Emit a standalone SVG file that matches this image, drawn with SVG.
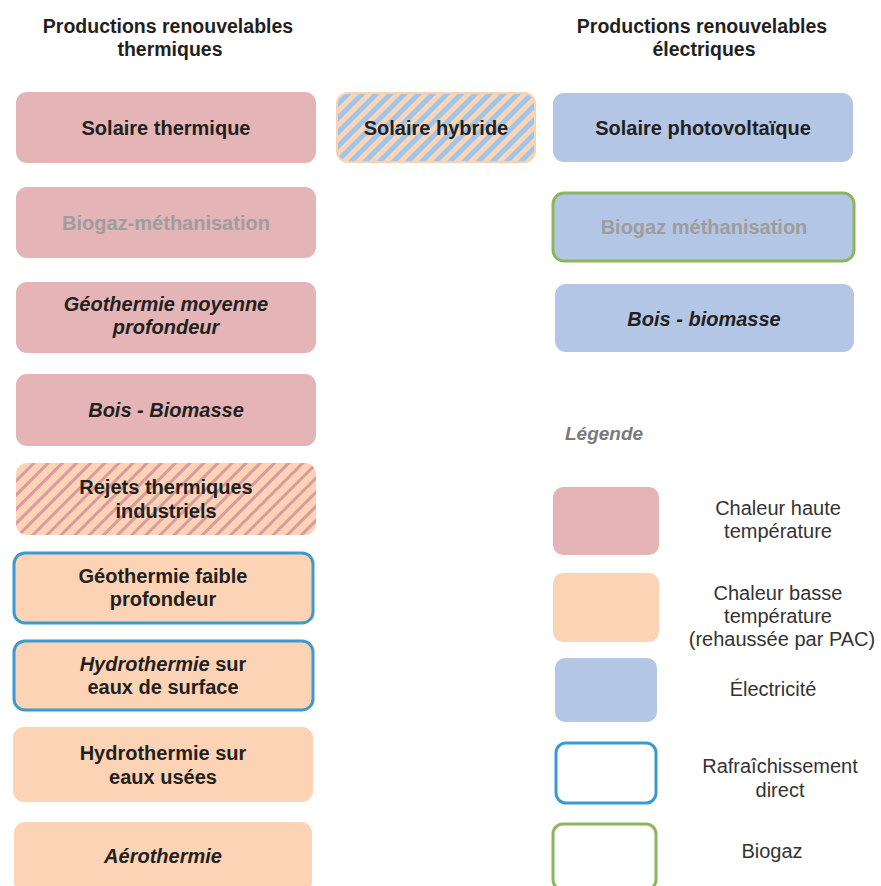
<svg xmlns="http://www.w3.org/2000/svg" width="881" height="886" viewBox="0 0 881 886">
<style>
text{font-family:"Liberation Sans",Arial,sans-serif;fill:#231f20;text-anchor:middle}
.h{font-size:19.5px;font-weight:bold}
.b{font-size:20px;font-weight:bold}
.i{font-style:italic}
.g{fill:#9d9d9d}
.n{font-size:20px;fill:#333}
.leg{font-size:19px;font-weight:bold;font-style:italic;fill:#7a7a7a;text-anchor:start}
.pk{fill:#e4b4b6}
.or{fill:#fcd3b5}
.bl{fill:#b4c6e6}
.cy{stroke:#3b9ad2;stroke-width:3}
.gr{stroke:#8db45f;stroke-width:3}
</style>
<defs>
<pattern id="hyb" patternUnits="userSpaceOnUse" width="10" height="10" patternTransform="rotate(45)">
<rect width="10" height="10" fill="#fcd5b6"/>
<rect width="5" height="10" fill="#9fc6ea"/>
</pattern>
<pattern id="rej" patternUnits="userSpaceOnUse" width="10" height="10" patternTransform="rotate(45)">
<rect width="10" height="10" fill="#fcd3b5"/>
<rect width="3" height="10" fill="#d99aa0"/>
</pattern>
</defs>
<rect width="881" height="886" fill="#ffffff"/>

<g id="header-thermique">
<text class="h" x="168" y="33">Productions renouvelables</text>
<text class="h" x="170" y="56">thermiques</text>
</g>
<g id="header-electrique">
<text class="h" x="702" y="33">Productions renouvelables</text>
<text class="h" x="704" y="56">électriques</text>
</g>

<g id="solaire-thermique">
<rect class="pk" x="16" y="92" width="300" height="71" rx="11"/>
<text class="b" x="166" y="135">Solaire thermique</text>
</g>
<g id="solaire-hybride">
<rect x="337" y="93" width="198" height="69" rx="11" fill="url(#hyb)" stroke="#f9d2b2" stroke-width="2"/>
<text class="b" x="436" y="135">Solaire hybride</text>
</g>
<g id="solaire-pv">
<rect class="bl" x="553" y="93" width="300" height="69" rx="11"/>
<text class="b" x="703" y="135">Solaire photovoltaïque</text>
</g>

<g id="biogaz-thermique">
<rect class="pk" x="16" y="187" width="300" height="71" rx="11"/>
<text class="b g" x="166" y="230">Biogaz-méthanisation</text>
</g>
<g id="biogaz-electrique">
<rect class="bl gr" x="553" y="193" width="301" height="68" rx="11"/>
<text class="b g" x="704" y="234">Biogaz méthanisation</text>
</g>

<g id="geothermie-moyenne">
<rect class="pk" x="16" y="282" width="300" height="71" rx="11"/>
<text class="b i" x="166" y="311">Géothermie moyenne</text>
<text class="b i" x="166" y="334">profondeur</text>
</g>
<g id="bois-electrique">
<rect class="bl" x="555" y="284" width="299" height="68" rx="11"/>
<text class="b i" x="704" y="326">Bois - biomasse</text>
</g>

<g id="bois-thermique">
<rect class="pk" x="16" y="374" width="300" height="72" rx="11"/>
<text class="b i" x="166" y="417">Bois - Biomasse</text>
</g>

<g id="rejets">
<rect x="16" y="463" width="300" height="72" rx="11" fill="url(#rej)"/>
<text class="b" x="166" y="494">Rejets thermiques</text>
<text class="b" x="166" y="518">industriels</text>
</g>

<g id="geothermie-faible">
<rect class="or cy" x="14" y="553" width="299" height="70" rx="11"/>
<text class="b" x="163" y="583">Géothermie faible</text>
<text class="b" x="163" y="606">profondeur</text>
</g>

<g id="hydro-surface">
<rect class="or cy" x="14" y="641" width="299" height="69" rx="11"/>
<text class="b" x="163" y="671"><tspan class="i">Hydrothermie</tspan> sur</text>
<text class="b" x="163" y="694">eaux de surface</text>
</g>

<g id="hydro-usees">
<rect class="or" x="13" y="727" width="300" height="75" rx="11"/>
<text class="b" x="163" y="760">Hydrothermie sur</text>
<text class="b" x="163" y="784">eaux usées</text>
</g>

<g id="aerothermie">
<rect class="or" x="14" y="822" width="298" height="71" rx="11"/>
<text class="b i" x="163" y="863">Aérothermie</text>
</g>

<g id="legende">
<text class="leg" x="565" y="440">Légende</text>
<rect class="pk" x="553" y="487" width="106" height="68" rx="10"/>
<text class="n" x="778" y="515">Chaleur haute</text>
<text class="n" x="778" y="538">température</text>
<rect class="or" x="553" y="573" width="106" height="69" rx="10"/>
<text class="n" x="778" y="600">Chaleur basse</text>
<text class="n" x="778" y="623">température</text>
<text class="n" x="782" y="646">(rehaussée par PAC)</text>
<rect class="bl" x="555" y="658" width="102" height="64" rx="10"/>
<text class="n" x="773" y="696">Électricité</text>
<rect class="cy" x="556" y="743" width="100" height="60" rx="10" fill="#fff"/>
<text class="n" x="780" y="773">Rafraîchissement</text>
<text class="n" x="780" y="797">direct</text>
<rect class="gr" x="553" y="824" width="103" height="66" rx="10" fill="#fff"/>
<text class="n" x="772" y="858">Biogaz</text>
</g>
<g id="connectors"/>
</svg>
